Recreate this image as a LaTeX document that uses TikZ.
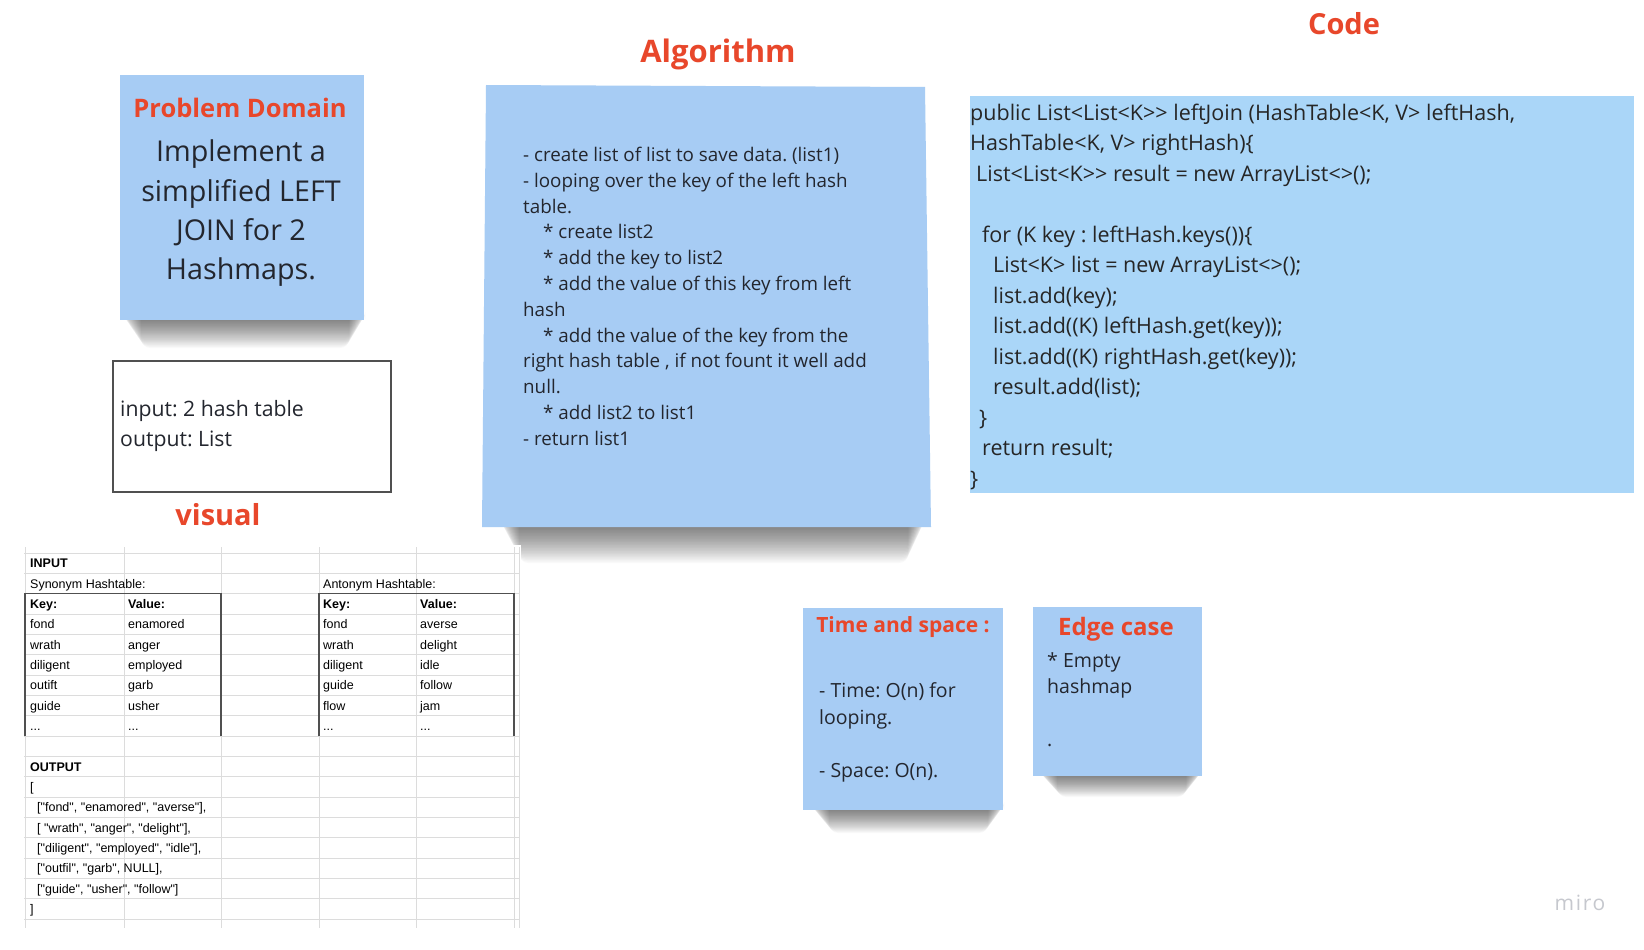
\documentclass[tikz,border=0pt]{standalone}
\usepackage{fontspec}
\setmainfont{Open Sans}[Ligatures=TeXOff]
\newfontfamily\sheetfont[Ligatures=TeXOff]{Liberation Sans}
\newfontfamily\mirofont[LetterSpace=8]{Open Sans}
\frenchspacing

\definecolor{stickyblue}{HTML}{A7CCF4}
\definecolor{codeblue}{HTML}{AAD6F8}
\definecolor{titlered}{HTML}{E8472B}
\definecolor{inkgray}{HTML}{23262E}
\definecolor{gridgray}{HTML}{DCDCDC}
\definecolor{sheetline}{HTML}{505050}
\definecolor{mirogray}{HTML}{C6C8CE}

\newcommand{\fsz}[2]{\fontsize{#1}{#2}\selectfont}
\newcommand{\tripledot}{...}
% soft shadow under a sticky: left, right, bottom, depth
\newcommand{\stickyshadow}[4]{%
  \foreach \k in {1,...,24}
    \fill[black, opacity=0.022, rounded corners=9pt]
      (#1+\k*0.8,#3-10) rectangle (#2-\k*0.7,#3+\k*#4/24);
}

\tikzset{
  sticky/.style={fill=stickyblue, inner sep=0pt},
  title/.style={text=titlered, font=\fsz{29}{35}\bfseries, inner sep=0pt, anchor=base},
  note/.style={text=inkgray, inner sep=0pt, anchor=north west, align=left},
  cell/.style={font=\sheetfont\fsz{12.5}{15}, anchor=base west, inner sep=0pt, text=black},
}

\begin{document}
\begin{tikzpicture}[x=1pt, y=-1pt]
\useasboundingbox (0,0) rectangle (1644,950);
\fill[white] (0,0) rectangle (1644,950);

% problem domain
\stickyshadow{122}{366}{320}{28}
\node[sticky, minimum width=244pt, minimum height=245pt] (pd) at (242,197.5) {};
\node[title, font=\fsz{25.5}{30}\bfseries] (pdtitle) at (240,117.5) {Problem Domain};
\node[note, anchor=north, align=center, font=\fsz{28.7}{39.3}] (pdtext) at (241,139.7)
  {Implement a\\simplified LEFT\\JOIN for 2\\Hashmaps.};

% input / output
\node[draw=sheetline, line width=1.3pt, minimum width=278pt, minimum height=131pt, inner sep=0pt] (io) at (252,426.5) {};
\node[note, font=\fsz{21.2}{30}] (iotext) at (120,400.6) {input: 2 hash table\\output: List};

\node[title] (vistitle) at (218,525) {visual};

% algorithm
\node[title, font=\fsz{31}{36}\bfseries] (algtitle) at (718,63) {Algorithm};
\stickyshadow{500}{925}{527}{36}
\fill[stickyblue] (486,85) -- (925,87) -- (931,527) -- (482,527) -- cycle;
\node[note, font=\fsz{18.8}{25.8}] (algtext) at (523,147)
  {- create list of list to save data. (list1)\\
   - looping over the key of the left hash\\
   table.\\
   \hspace*{20pt}* create list2\\
   \hspace*{20pt}* add the key to list2\\
   \hspace*{20pt}* add the value of this key from left\\
   hash\\
   \hspace*{20pt}* add the value of the key from the\\
   right hash table , if not fount it well add\\
   null.\\
   \hspace*{20pt}* add list2 to list1\\
   - return list1};

% code
\node[title] (codetitle) at (1344,35) {Code};
\node[fill=codeblue, minimum width=664pt, minimum height=397pt, inner sep=0pt] (codebox) at (1302,294.5) {};
\node[note, text=black!85, font=\fsz{21.5}{30.5}] (codetext) at (970,103.5)
  {public List<List<K>> leftJoin (HashTable<K, V> leftHash,\\
   HashTable<K, V> rightHash)\{\\
   \hspace*{6pt}List<List<K>> result = new ArrayList<>();\\
   \mbox{}\\
   \hspace*{12pt}for (K key : leftHash.keys())\{\\
   \hspace*{23pt}List<K> list = new ArrayList<>();\\
   \hspace*{23pt}list.add(key);\\
   \hspace*{23pt}list.add((K) leftHash.get(key));\\
   \hspace*{23pt}list.add((K) rightHash.get(key));\\
   \hspace*{23pt}result.add(list);\\
   \hspace*{9pt}\}\\
   \hspace*{12pt}return result;\\
   \}};

% time and space
\stickyshadow{810}{1005}{810}{23}
\node[sticky, minimum width=200pt, minimum height=202pt] (ts) at (903,709) {};
\node[title, font=\fsz{21}{25}\bfseries] (tstitle) at (903,632) {Time and space :};
\node[note, font=\fsz{19.5}{26.5}] (tstext) at (819,682.5)
  {- Time: O(n) for\\looping.\\\mbox{}\\- Space: O(n).};

% edge case
\stickyshadow{1038}{1203}{776}{21}
\node[sticky, minimum width=169pt, minimum height=169pt] (edge) at (1117.5,691.5) {};
\node[title, font=\fsz{24}{28}\bfseries] (edgetitle) at (1116,635.5) {Edge case};
\node[note, font=\fsz{19.5}{26.5}] (edgetext) at (1047,652)
  {* Empty\\hashmap\\\mbox{}\\.};

% visual sheet
\fill[white] (22,545) rectangle (521,930);
\foreach \r in {0,...,18}
  \draw[gridgray, line width=1pt] (24,553+20.35*\r) -- (519,553+20.35*\r);
\foreach \c in {25,124,221,319,416,514,519}
  \draw[gridgray, line width=1pt] (\c,547) -- (\c,928);
\draw[sheetline, line width=1.2pt] (25,736.2) -- (25,593.7) -- (221,593.7) -- (221,736.2);
\draw[sheetline, line width=1.2pt] (319,736.2) -- (319,593.7) -- (514,593.7) -- (514,736.2);

\node[cell] (inlabel) at (30,567.7) {\bfseries INPUT};
\node[cell] (synlabel) at (30,588.05) {Synonym Hashtable:};
\node[cell] (antlabel) at (323,588.05) {Antonym Hashtable:};
\foreach \k/\v/\ka/\va [count=\r from 2] in {
    {\bfseries Key:}/{\bfseries Value:}/{\bfseries Key:}/{\bfseries Value:},
    fond/enamored/fond/averse,
    wrath/anger/wrath/delight,
    diligent/employed/diligent/idle,
    outift/garb/guide/follow,
    guide/usher/flow/jam,
    \tripledot/\tripledot/\tripledot/\tripledot} {
  \pgfmathsetmacro{\ypos}{567.7+20.35*\r}
  \node[cell] (synk\r) at (30,\ypos) {\k};
  \node[cell] (synv\r) at (128,\ypos) {\v};
  \node[cell] (antk\r) at (323,\ypos) {\ka};
  \node[cell] (antv\r) at (420,\ypos) {\va};
}

\node[cell] (outlabel) at (30,771.2) {\bfseries OUTPUT};
\node[cell] (open) at (30,791.55) {[};
\foreach \line [count=\r from 12] in {
    {["fond", "enamored", "averse"],},
    {[ "wrath", "anger", "delight"],},
    {["diligent", "employed", "idle"],},
    {["outfil", "garb", NULL],},
    {["guide", "usher", "follow"]}} {
  \pgfmathsetmacro{\ypos}{567.7+20.35*\r}
  \node[cell] (outrow\r) at (37,\ypos) {\line};
}
\node[cell] (close) at (30,913.8) {]};

\node[text=mirogray, font=\mirofont\fsz{21}{25}, inner sep=0pt] (miro) at (1580,903) {miro};
\end{tikzpicture}
\end{document}
